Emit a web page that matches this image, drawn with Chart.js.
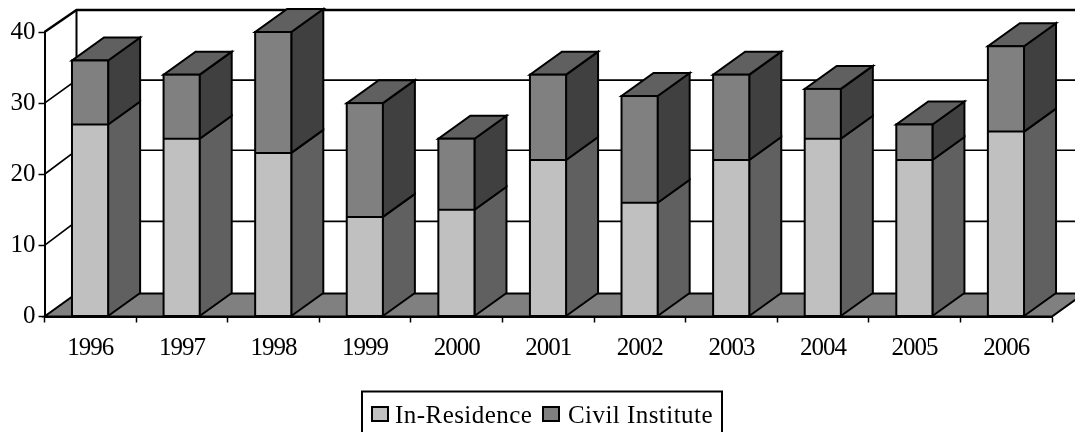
<!DOCTYPE html>
<html><head><meta charset="utf-8">
<style>html,body{margin:0;padding:0;background:#fff;overflow:hidden}canvas{display:block}</style>
<script src="https://cdn.jsdelivr.net/npm/chart.js@4"></script>
</head><body><canvas id="c" width="1075" height="432"></canvas>
<script>
const categories = ['1996','1997','1998','1999','2000','2001','2002','2003','2004','2005','2006'];
const inResidence = [27,25,23,14,15,22,16,22,25,22,26];
const civilInstitute = [9,9,17,16,10,12,15,12,7,5,12];
const yTicks = [0,10,20,30,40];
const seriesNames = ['In-Residence','Civil Institute'];
const colors = {light:'#C0C0C0', mid:'#808080', lightSide:'#606060', midSide:'#404040', midTop:'#606060', floor:'#808080'};
const DX = 32, DY = -23;
const wallShift = {10:-24,20:-24,30:-23,40:-22};
const FONT = '"Liberation Serif","Times New Roman",serif';

function poly(ctx, pts, fill, lw){
  ctx.beginPath();
  pts.forEach((p,i)=> i?ctx.lineTo(p[0],p[1]):ctx.moveTo(p[0],p[1]));
  ctx.closePath();
  if(fill){ctx.fillStyle=fill;ctx.fill();}
  ctx.lineWidth=lw||2;ctx.strokeStyle='#000';ctx.lineJoin='miter';ctx.stroke();
}
const threeD = {
  id:'threeD',
  beforeDraw(chart){
    const sx=chart.scales.x;
    if(!sx._wrapped){
      const orig=sx.drawLabels.bind(sx);
      sx.drawLabels=function(area){
        const c=chart.ctx, prev=c.letterSpacing;
        c.letterSpacing='-1px';
        orig(area);
        c.letterSpacing=prev;
      };
      sx._wrapped=true;
    }
  },
  beforeDatasetsDraw(chart){
    const ctx=chart.ctx, y=chart.scales.y, a=chart.chartArea;
    const l=a.left, r=a.right, b=y.getPixelForValue(0);
    ctx.save();
    ctx.strokeStyle='#000';
    yTicks.forEach(v=>{
      if(v===0) return;
      const py=y.getPixelForValue(v), s=wallShift[v];
      ctx.lineWidth = v===40 ? 2.5 : 1.6;
      ctx.beginPath();ctx.moveTo(l,py);ctx.lineTo(l+DX,py+s);ctx.lineTo(r+DX,py+s);ctx.stroke();
    });
    ctx.lineWidth=2;
    ctx.beginPath();ctx.moveTo(l+DX,y.getPixelForValue(40)+wallShift[40]);ctx.lineTo(l+DX,b+DY);ctx.stroke();
    poly(ctx,[[l,b],[r,b],[r+DX,b+DY],[l+DX,b+DY]],colors.floor,2);
    const m0=chart.getDatasetMeta(0).data, m1=chart.getDatasetMeta(1).data;
    m0.forEach((bar,i)=>{
      const top=m1[i], xr=bar.x+bar.width/2-0.5, xl=bar.x-bar.width/2;
      poly(ctx,[[xr,bar.base],[xr+DX,bar.base+DY],[xr+DX,bar.y+DY],[xr,bar.y]],colors.lightSide,2);
      poly(ctx,[[xr,bar.y],[xr+DX,bar.y+DY],[xr+DX,top.y+DY],[xr,top.y]],colors.midSide,2);
      poly(ctx,[[xl,top.y],[xr,top.y],[xr+DX,top.y+DY],[xl+DX,top.y+DY]],colors.midTop,2);
    });
    ctx.restore();
  },
  afterDatasetsDraw(chart){
    const ctx=chart.ctx;
    const m0=chart.getDatasetMeta(0).data, m1=chart.getDatasetMeta(1).data;
    ctx.save();
    ctx.strokeStyle='#000';ctx.lineWidth=2;ctx.lineJoin='miter';
    m0.forEach((bar,i)=>{
      const top=m1[i], xr=bar.x+bar.width/2-0.5, xl=bar.x-bar.width/2;
      ctx.strokeRect(xl,top.y,xr-xl,bar.base-top.y);
      ctx.beginPath();ctx.moveTo(xl,bar.y);ctx.lineTo(xr,bar.y);ctx.stroke();
    });
    ctx.restore();
  },
  afterDraw(chart){
    const ctx=chart.ctx;
    ctx.save();
    ctx.strokeStyle='#000';ctx.lineWidth=2;
    ctx.strokeRect(362,391.5,360,44);
    const items=[[372,395],[543,568]];
    chart.data.datasets.forEach((d,i)=>{
      ctx.fillStyle=d.backgroundColor;
      ctx.fillRect(items[i][0],407,16,14);
      ctx.strokeRect(items[i][0],407,16,14);
      ctx.fillStyle='#000';
      ctx.font='25px '+FONT;
      ctx.textBaseline='alphabetic';ctx.textAlign='left';
      ctx.letterSpacing='0.45px';
      ctx.fillText(d.label,items[i][1],423);
      ctx.letterSpacing='0px';
    });
    ctx.restore();
  }
};
new Chart(document.getElementById('c').getContext('2d'),{
  type:'bar',
  data:{labels:categories,datasets:[
    {label:seriesNames[0],data:inResidence,backgroundColor:colors.light,borderWidth:0,categoryPercentage:0.4,barPercentage:1},
    {label:seriesNames[1],data:civilInstitute,backgroundColor:colors.mid,borderWidth:0,categoryPercentage:0.4,barPercentage:1}
  ]},
  plugins:[threeD],
  options:{
    responsive:false,animation:false,devicePixelRatio:1,
    layout:{padding:{left:0,right:23,top:32,bottom:0}},
    plugins:{legend:{display:false},tooltip:{enabled:false},title:{display:false}},
    scales:{
      x:{stacked:true,
        grid:{display:true,drawOnChartArea:false,drawTicks:true,tickLength:6,tickColor:'#000',tickWidth:1.5},
        border:{display:true,color:'#000',width:2},
        ticks:{color:'#000',font:{family:FONT,size:25},padding:11,maxRotation:0,autoSkip:false},
        afterFit(s){s.height=115.5;}
      },
      y:{stacked:true,min:0,max:40,
        grid:{display:true,drawOnChartArea:false,drawTicks:true,tickLength:6,tickColor:'#000',tickWidth:1.5},
        border:{display:true,color:'#000',width:2},
        ticks:{color:'#000',font:{family:FONT,size:25},padding:3,stepSize:10},
        afterFit(s){s.width=44.5;}
      }
    }
  }
});
</script></body></html>
